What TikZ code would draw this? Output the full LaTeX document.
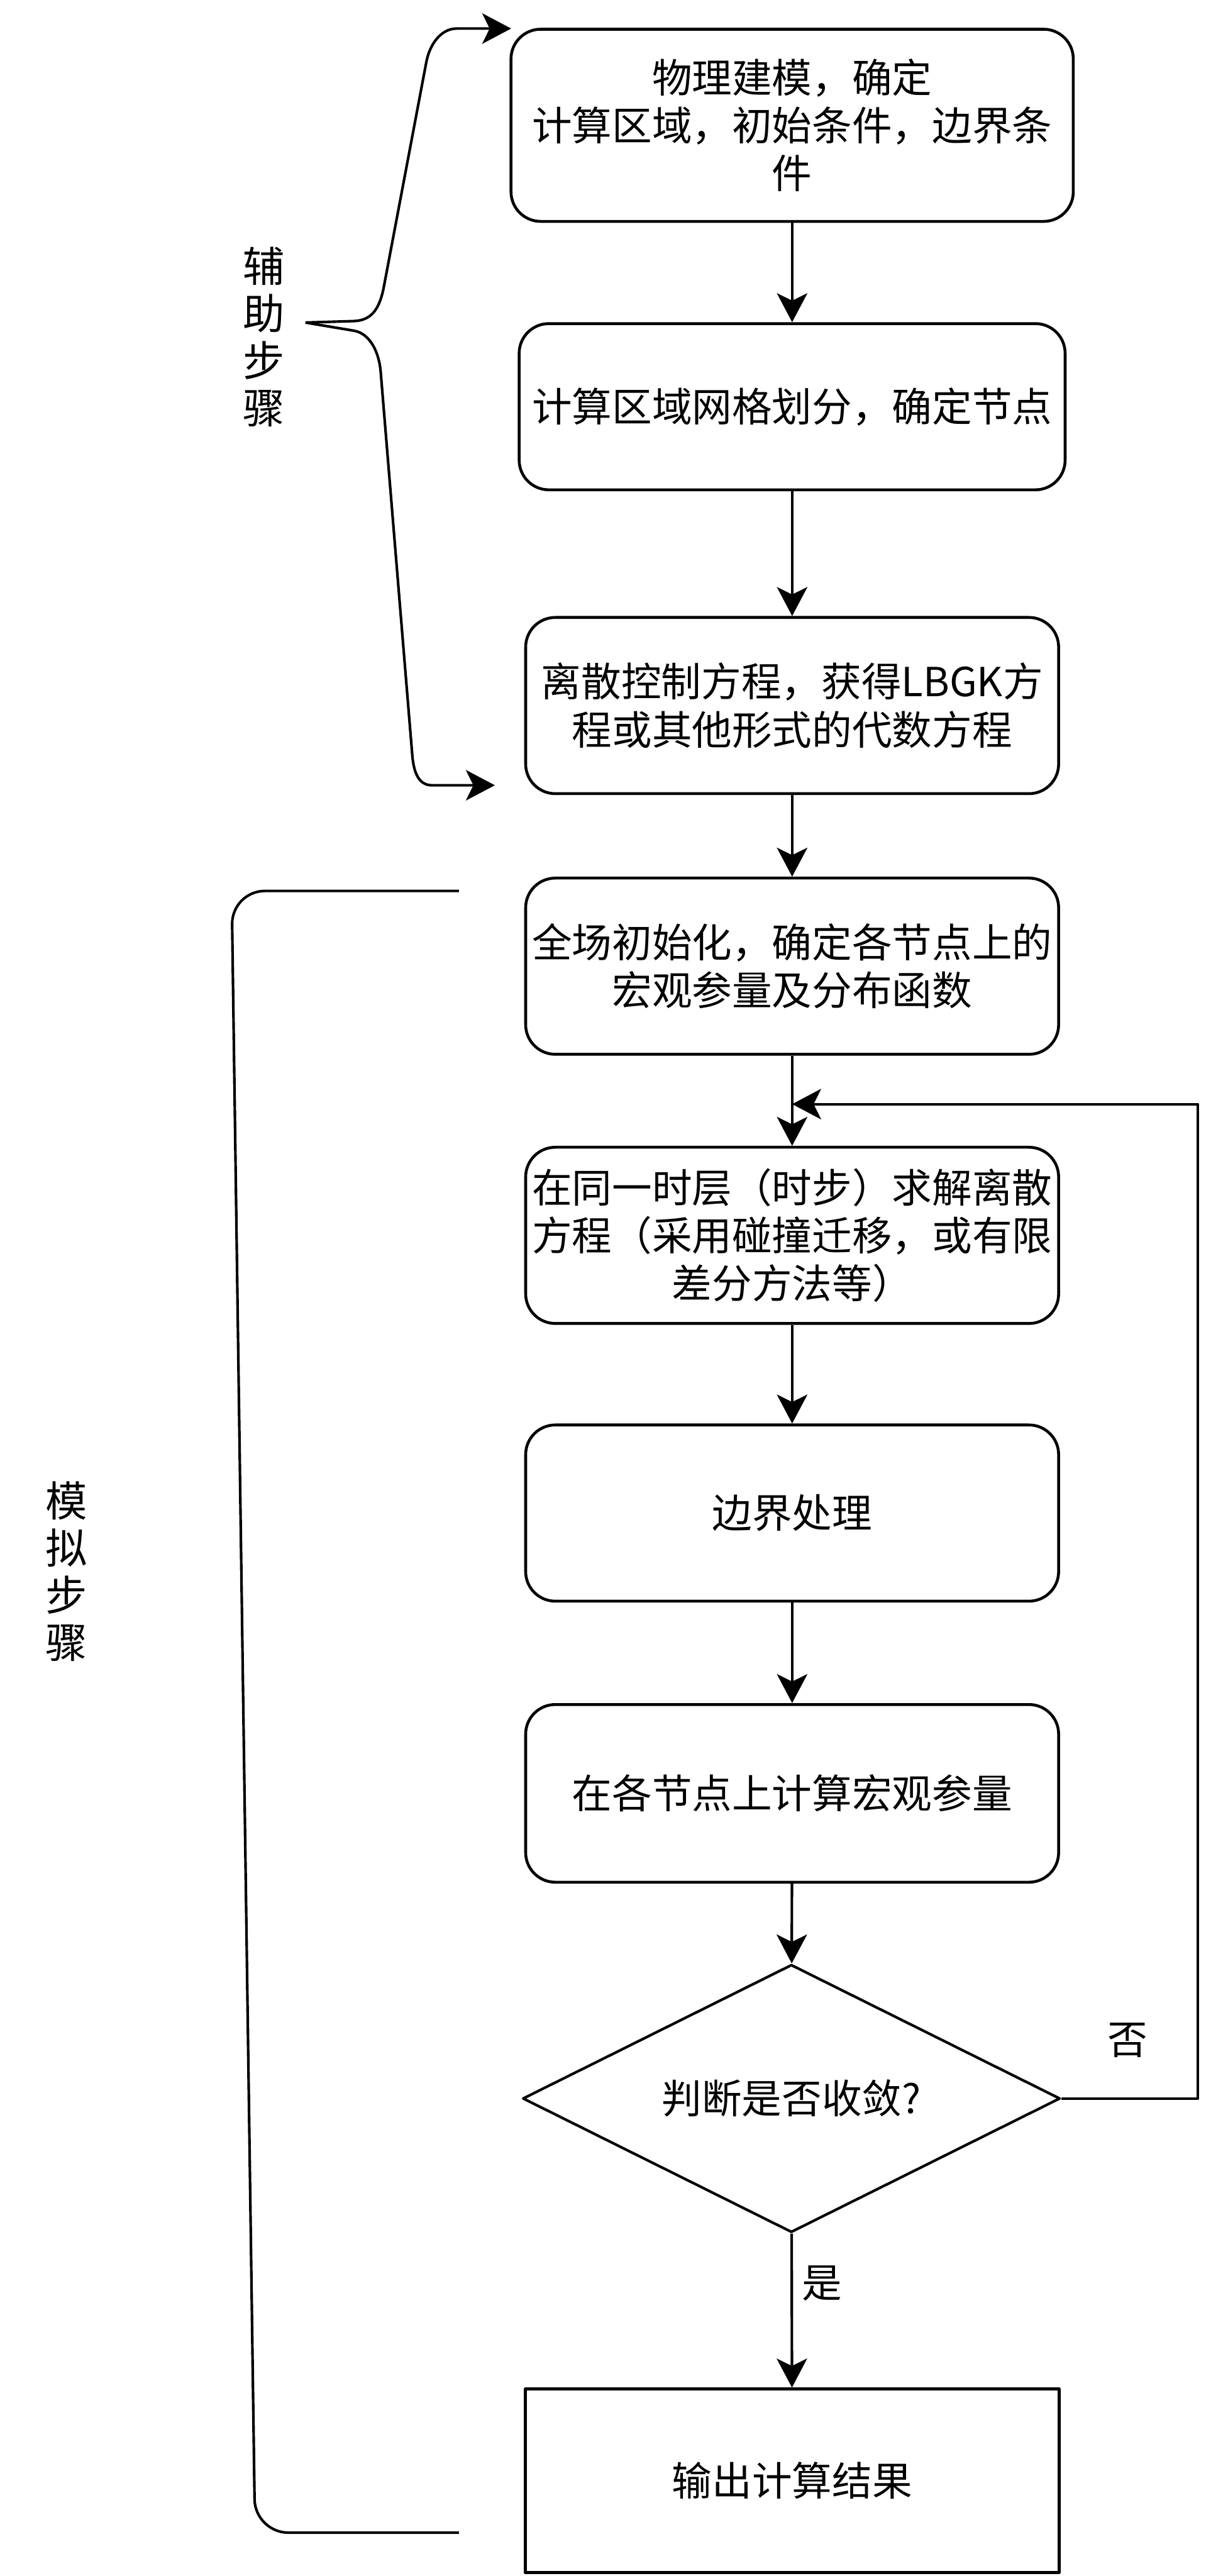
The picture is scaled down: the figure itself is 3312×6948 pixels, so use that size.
\documentclass[tikz,border=0pt]{standalone}
\usepackage{fontspec}
\setmainfont{Noto Sans CJK SC}
\usetikzlibrary{arrows.meta,shapes.geometric}
\newcommand\bxfont{\fontsize{30.7}{36.8}\selectfont}
\newcommand\lblfont{\fontsize{32}{36.2}\selectfont}
\begin{document}
\begin{tikzpicture}[x=0.01cm,y=-0.01cm,line join=round,
  box/.style={draw,line width=2.2pt,rounded corners=0.8cm,align=center,font=\bxfont,inner sep=0pt,minimum width=14.37cm,minimum height=4.75cm},
  arr/.style={line width=2pt,-{Stealth[length=0.78cm,width=0.82cm,inset=0.2cm]}},
  brace/.style={line width=2pt},
  lbl/.style={align=center,font=\lblfont,inner sep=0pt}]
\useasboundingbox (0,0) rectangle (3312,6948);
\fill[white] (0,0) rectangle (3312,6948);

\node[box,minimum width=15.16cm,minimum height=5.18cm] (b1) at (2137,338) {物理建模，确定\\计算区域，初始条件，边界条\\件};
\node[box,minimum width=14.72cm,minimum height=4.48cm] (b2) at (2137,1097) {计算区域网格划分，确定节点};
\node[box] (b3) at (2137,1903) {离散控制方程，获得LBGK方\\程或其他形式的代数方程};
\node[box] (b4) at (2137,2606) {全场初始化，确定各节点上的\\宏观参量及分布函数};
\node[box] (b5) at (2137,3332) {在同一时层（时步）求解离散\\方程（采用碰撞迁移，或有限\\差分方法等）};
\node[box] (b6) at (2137,4081) {边界处理};
\node[box,minimum height=4.79cm] (b7) at (2137,4837) {在各节点上计算宏观参量};
\node[draw,diamond,shape aspect=2,line width=2pt,inner sep=0pt,minimum width=14.49cm,minimum height=7.22cm,font=\bxfont] (dia) at (2135,5660) {判断是否收敛?};
\node[draw,rectangle,line width=2.2pt,inner sep=0pt,minimum width=14.39cm,minimum height=4.95cm,font=\bxfont] (b8) at (2137,6691) {输出计算结果};

\draw[arr] (b1) -- (b2);
\draw[arr] (b2) -- (b3);
\draw[arr] (b3) -- (b4);
\draw[arr] (b4) -- (b5);
\draw[arr] (b5) -- (b6);
\draw[arr] (b6) -- (b7);
\draw[arr] (b7) -- (dia);
\draw[arr] (dia) -- (b8);

\coordinate (loopR) at (3232,2978);
\coordinate (fbEnd) at (2137,2978);
\draw[arr] (dia.east) -| (loopR) -- (fbEnd);

\node[inner sep=0pt,font=\bxfont] (yes) at (2218,6159) {是};
\node[inner sep=0pt,font=\bxfont] (no) at (3042,5503) {否};

% brace for auxiliary steps
\coordinate (tip) at (824,870);
\coordinate (upEnd) at (1379,77);
\coordinate (loEnd) at (1335,2118);
\draw[brace,-{Stealth[length=0.78cm,width=0.82cm,inset=0.2cm]}] (tip) -- (955,866) .. controls (1005,864) and (1025,830) .. (1036,771) -- (1150,168) .. controls (1159,119) and (1190,77) .. (1232,77) -- (upEnd);
\draw[brace,-{Stealth[length=0.78cm,width=0.82cm,inset=0.2cm]}] (tip) -- (955,892) .. controls (1000,900) and (1023,953) .. (1027,1003) -- (1112,2034) .. controls (1115,2074) and (1125,2118) .. (1165,2118) -- (loEnd);
\node[lbl] (aux) at (712,909) {辅\\助\\步\\骤};

% bracket for simulation steps
\coordinate (bkTop) at (1238,2403);
\coordinate (bkBot) at (1238,6831);
\draw[brace,rounded corners=0.9cm] (bkTop) -- (625,2403) -- (688,6831) -- (bkBot);
\node[lbl] (sim) at (180,4238) {模\\拟\\步\\骤};
\end{tikzpicture}
\end{document}
